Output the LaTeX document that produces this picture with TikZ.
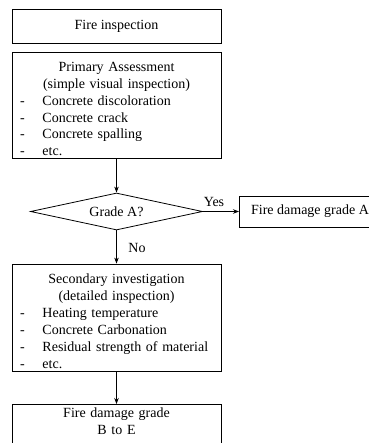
\documentclass[tikz,border=0pt]{standalone}
\usepackage{fontspec}
\setmainfont{Liberation Serif}
\usetikzlibrary{shapes.geometric,arrows.meta}
\newcommand{\dashitem}[1]{\makebox[22.5pt][l]{-}#1}
\begin{document}
\begin{tikzpicture}[x=1pt, y=1pt,
  every node/.style={font=\fontsize{14}{16.9}\selectfont},
  box/.style={rectangle, draw=black, line width=0.8pt, minimum width=209pt, inner sep=0pt},
  listbox/.style={box, text width=193pt, inner xsep=8pt},
  decision/.style={diamond, draw=black, line width=0.8pt, aspect=4.6, inner sep=0pt, minimum width=172pt, minimum height=37pt},
  arrow/.style={line width=0.8pt, -{Stealth[length=6pt, width=4.5pt]}}]
\useasboundingbox (0,0) rectangle (368,-443);

\node (fire) at (116.5,-26) [box, minimum height=34pt] {Fire inspection};
\node (primary) at (116.5,-105) [listbox, minimum height=106pt] {%
  \centering\rule{0pt}{17.5pt}Primary Assessment\\(simple visual inspection)\par
  \raggedright
  \dashitem{Concrete discoloration}\\
  \dashitem{Concrete crack}\\
  \dashitem{Concrete spalling}\\
  \dashitem{etc.}};
\node (grade) at (116.5,-211.5) [decision] {Grade A?};
\node (gradeA) at (239,-211.5) [anchor=west, draw=black, line width=0.8pt, inner xsep=11.7pt, minimum height=31pt] {Fire damage grade A};
\node (secondary) at (116.5,-317.5) [listbox, minimum height=107pt] {%
  \centering\rule{0pt}{17pt}Secondary investigation\\(detailed inspection)\par
  \raggedright
  \dashitem{Heating temperature}\\
  \dashitem{Concrete Carbonation}\\
  \dashitem{Residual strength of material}\\
  \dashitem{etc.}};
\node (final) at (116.5,-404) [box, anchor=north, align=center, inner ysep=3pt, text width=193pt] {Fire damage grade\\B to E\rule[-12pt]{0pt}{12pt}};

\node (yes) at (214,-202) {Yes};
\node (no) at (137,-248) {No};

\draw[arrow] (primary) to (grade);
\draw[arrow] (grade) to (gradeA);
\draw[arrow] (grade) to (secondary);
\draw[arrow] (secondary) to (final);
\end{tikzpicture}
\end{document}
